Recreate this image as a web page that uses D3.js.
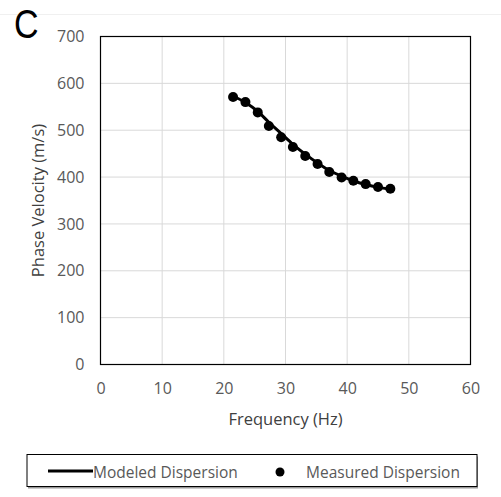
<!DOCTYPE html>
<html><head><meta charset="utf-8">
<script src="https://cdn.jsdelivr.net/npm/d3@7"></script>
<style>body{margin:0;background:#fff;}</style>
</head><body>
<script>
const measuredFreq = [21.5, 23.5, 25.5, 27.3, 29.3, 31.2, 33.2, 35.2, 37.1, 39.1, 41.0, 43.0, 45.0, 47.0];
const measuredVel  = [571, 560, 538, 509, 485, 464, 445, 428, 411, 399, 392, 385, 379, 375];
const modeledFreq  = [21.5, 23.5, 25.5, 27.3, 29.3, 31.2, 33.2, 35.2, 37.1, 39.1, 41.0, 43.0, 45.0, 47.0];
const modeledVel   = [573, 559, 540, 517, 493, 470, 449, 430, 414, 402, 392, 384, 378, 374];
const xTicks = [0, 10, 20, 30, 40, 50, 60];
const yTicks = [0, 100, 200, 300, 400, 500, 600, 700];
const legendLabels = ["Modeled Dispersion", "Measured Dispersion"];

const W = 501, H = 497;
const font = "'Open Sans', sans-serif";
const svg = d3.select("body").append("svg").attr("width", W).attr("height", H);
svg.append("rect").attr("width", W).attr("height", H).attr("fill", "#fff");
svg.append("line").attr("x1", 0).attr("x2", W).attr("y1", 14.5).attr("y2", 14.5).attr("stroke", "#f0f0f0");

const m = {l: 100.5, r: 470.5, t: 36.5, b: 364.5};
const x = d3.scaleLinear().domain([0, 60]).range([m.l, m.r]);
const y = d3.scaleLinear().domain([0, 700]).range([m.b, m.t]);

// gridlines
svg.append("g").selectAll("line").data(xTicks.slice(1, -1)).join("line")
  .attr("x1", d => x(d)).attr("x2", d => x(d)).attr("y1", m.t).attr("y2", m.b)
  .attr("stroke", "#d9d9d9").attr("stroke-width", 1);
svg.append("g").selectAll("line").data(yTicks.slice(1, -1)).join("line")
  .attr("x1", m.l).attr("x2", m.r).attr("y1", d => y(d)).attr("y2", d => y(d))
  .attr("stroke", "#d9d9d9").attr("stroke-width", 1);

// frame
svg.append("rect").attr("x", m.l).attr("y", m.t).attr("width", m.r - m.l).attr("height", m.b - m.t)
  .attr("fill", "none").attr("stroke", "#000").attr("stroke-width", 1.2);

// axes via d3 axis
const xAxis = svg.append("g").attr("transform", `translate(0,${m.b})`)
  .call(d3.axisBottom(x).tickValues(xTicks).tickSize(0).tickPadding(18));
const yAxis = svg.append("g").attr("transform", `translate(${m.l},0)`)
  .call(d3.axisLeft(y).tickValues(yTicks).tickSize(0).tickPadding(16));
[xAxis, yAxis].forEach(a => {
  a.select(".domain").remove();
  a.selectAll("text").attr("font-family", font).attr("font-size", 16).attr("fill", "#595959");
});

// titles
svg.append("text").attr("x", (m.l + m.r) / 2).attr("y", 425).attr("text-anchor", "middle")
  .attr("font-family", font).attr("font-size", 16.5).attr("fill", "#404040").text("Frequency (Hz)");
svg.append("text").attr("transform", `translate(44,${(m.t + m.b) / 2}) rotate(-90)`).attr("text-anchor", "middle")
  .attr("font-family", font).attr("font-size", 16.5).attr("fill", "#404040").text("Phase Velocity (m/s)");
svg.append("text").attr("transform", "translate(14,37.5) scale(0.85,1)")
  .attr("font-family", "'Liberation Sans', Arial, sans-serif").attr("font-size", 40)
  .attr("fill", "#000").text("C");

// modeled line
const line = d3.line().x((d, i) => x(modeledFreq[i])).y(d => y(d)).curve(d3.curveMonotoneX);
svg.append("path").attr("d", line(modeledVel)).attr("fill", "none").attr("stroke", "#000").attr("stroke-width", 3);

// measured points
svg.append("g").selectAll("circle").data(measuredVel).join("circle")
  .attr("cx", (d, i) => x(measuredFreq[i])).attr("cy", d => y(d)).attr("r", 5).attr("fill", "#000");

// legend
const lg = svg.append("g");
lg.append("rect").attr("x", 28).attr("y", 456.5).attr("width", 450).attr("height", 32).attr("fill", "#999");
lg.append("rect").attr("x", 27).attr("y", 454.5).attr("width", 450).attr("height", 32)
  .attr("fill", "#fff").attr("stroke", "#000").attr("stroke-width", 1);
lg.append("line").attr("x1", 48).attr("x2", 93).attr("y1", 471).attr("y2", 471).attr("stroke", "#000").attr("stroke-width", 3);
lg.append("text").attr("x", 93).attr("y", 477.5).attr("font-family", font).attr("font-size", 15.5)
  .attr("fill", "#595959").text(legendLabels[0]);
lg.append("circle").attr("cx", 280).attr("cy", 472).attr("r", 4.5).attr("fill", "#000");
lg.append("text").attr("x", 306).attr("y", 477.5).attr("font-family", font).attr("font-size", 15.5)
  .attr("fill", "#595959").text(legendLabels[1]);
</script>
</body></html>
